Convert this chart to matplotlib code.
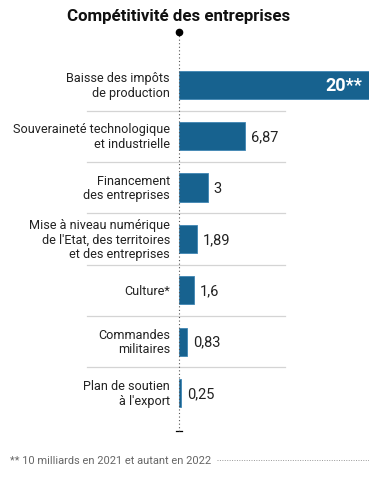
import matplotlib
matplotlib.use("Agg")
import matplotlib.pyplot as plt

plt.rcParams['font.family'] = ['Roboto', 'DejaVu Sans']

# data
categories = [
    "Baisse des impôts\nde production",
    "Souveraineté technologique\net industrielle",
    "Financement\ndes entreprises",
    "Mise à niveau numérique\nde l'Etat, des territoires\net des entreprises",
    "Culture*",
    "Commandes\nmilitaires",
    "Plan de soutien\nà l'export",
]
values = [20, 6.87, 3, 1.89, 1.6, 0.83, 0.25]
value_labels = ["20**", "6,87", "3", "1,89", "1,6", "0,83", "0,25"]

bar_color = "#17628f"
W, H = 369, 481

fig = plt.figure(figsize=(W / 100, H / 100), dpi=100)
ax = fig.add_axes([179 / W, 1 - 432 / H, (W - 179) / W, (432 - 33) / H])
ax.set_xlim(0, (W - 179) / 9.65)
ax.set_ylim(6.74, -1.03)
ax.axis("off")

ypos = list(range(len(values)))
ax.barh(ypos, values, height=0.55, color=bar_color, edgecolor="#3f86b3",
        linewidth=0.6, zorder=2)

for i, (cat, v, lab) in enumerate(zip(categories, values, value_labels)):
    ax.text(-0.95, i, cat, ha="right", va="center", fontsize=9.05,
            color="#222222", linespacing=1.15)
    if i == 0:
        ax.text(19.0, i, lab, ha="right", va="center", fontsize=13,
                color="white", fontweight="bold")
    else:
        ax.text(v + 0.6, i, lab, ha="left", va="center", fontsize=10.5,
                color="#222222")

# separators between rows
for i in range(len(values) - 1):
    ax.plot([-9.53, 11.0], [i + 0.5, i + 0.5], color="#d4d4d4", lw=0.9,
            clip_on=False, zorder=1)

# dotted axis with dot on top and small tick at bottom
ax.plot([0, 0], [-1.03, 6.74], color="#555555", lw=0.8, ls=(0, (1, 2.2)),
        clip_on=False, zorder=3)
ax.plot([0], [-1.03], "o", color="black", ms=4.5, clip_on=False, zorder=4)
ax.plot([-0.3, 0.3], [6.74, 6.74], color="black", lw=0.9, clip_on=False)

fig.text(179 / W, 1 - 17 / H, "Compétitivité des entreprises", ha="center",
         va="center", fontsize=12.2, fontweight="bold", color="#111111")

fig.text(10 / W, 1 - 461 / H, "** 10 milliards en 2021 et autant en 2022",
         ha="left", va="center", fontsize=7.9, color="#666666")
fig.add_artist(plt.Line2D([217 / W, 1], [1 - 461 / H, 1 - 461 / H],
                          color="#999999", lw=0.7, ls=(0, (1, 1.5))))

fig.savefig("out.png", dpi=100)
